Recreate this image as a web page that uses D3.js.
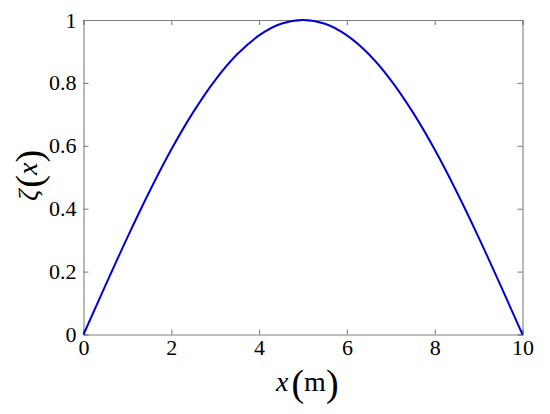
<!DOCTYPE html>
<html>
<head>
<meta charset="utf-8">
<script src="https://cdn.jsdelivr.net/npm/d3@7"></script>
<style>
  body { margin: 0; background: #fff; }
  text { font-family: "Liberation Serif", "Times New Roman", serif; fill: #000; }
</style>
</head>
<body>
<svg id="chart" width="550" height="414"></svg>
<script>
// values
const xs = [0, 0.5, 1, 1.5, 2, 2.5, 3, 3.5, 4, 4.5, 5, 5.5, 6, 6.5, 7, 7.5, 8, 8.5, 9, 9.5, 10];
const zeta = [0, 0.156, 0.309, 0.454, 0.588, 0.707, 0.809, 0.891, 0.951, 0.988, 1,
              0.988, 0.951, 0.891, 0.809, 0.707, 0.588, 0.454, 0.309, 0.156, 0];
const xTicks = [0, 2, 4, 6, 8, 10];
const yTicks = [0, 0.2, 0.4, 0.6, 0.8, 1];

const margin = { left: 83.5, right: 27.5, top: 20, bottom: 79.5 };
const svg = d3.select("#chart");
const W = 550, H = 414;

const x = d3.scaleLinear().domain([0, 10]).range([margin.left, W - margin.right]);
const y = d3.scaleLinear().domain([0, 1]).range([H - margin.bottom, margin.top]);

const axisColor = "#808080";

//axes with inward ticks on all four sides
const fmt = d => d3.format("~g")(d);
const gBottom = svg.append("g").attr("transform", `translate(0,${y(0)})`)
  .call(d3.axisBottom(x).tickValues(xTicks).tickSize(-5).tickPadding(5).tickFormat(fmt));
const gTop = svg.append("g").attr("transform", `translate(0,${y(1)})`)
  .call(d3.axisTop(x).tickValues(xTicks).tickSize(-5).tickFormat(""));
const gLeft = svg.append("g").attr("transform", `translate(${x(0)},0)`)
  .call(d3.axisLeft(y).tickValues(yTicks).tickSize(-5).tickPadding(7).tickFormat(fmt));
const gRight = svg.append("g").attr("transform", `translate(${x(10)},0)`)
  .call(d3.axisRight(y).tickValues(yTicks).tickSize(-5).tickFormat(""));

[gBottom, gTop, gLeft, gRight].forEach(g => {
  g.attr("font-family", "Liberation Serif, serif").attr("font-size", 22);
  g.selectAll("path, line").attr("stroke", axisColor).attr("stroke-width", 1.1);
  g.selectAll("text").attr("fill", "#000");
});

// the curve
const line = d3.line().x((d, i) => x(xs[i])).y(d => y(d)).curve(d3.curveMonotoneX);
svg.append("path").datum(zeta)
  .attr("d", line)
  .attr("fill", "none")
  .attr("stroke", "#0000dd")
  .attr("stroke-width", 2);

// axis labels (MATLAB style with enlarged brackets)
const xl = svg.append("text")
  .attr("x", 276).attr("y", 391)
  .attr("font-size", 28);
xl.append("tspan").attr("font-style", "italic").text("x");
xl.append("tspan").attr("dx", 3).attr("dy", 5).attr("font-size", 38).text("(");
xl.append("tspan").attr("dy", -5).text("m");
xl.append("tspan").attr("dy", 5).attr("font-size", 38).text(")");

const yl = svg.append("text")
  .attr("transform", `translate(37,201) rotate(-90)`)
  .attr("font-size", 28);
yl.append("tspan").attr("font-style", "italic").text("ζ");
yl.append("tspan").attr("dx", 2).attr("dy", 5).attr("font-size", 38).text("(");
yl.append("tspan").attr("dy", -5).attr("font-style", "italic").text("x");
yl.append("tspan").attr("dy", 5).attr("font-size", 38).text(")");
</script>
</body>
</html>
